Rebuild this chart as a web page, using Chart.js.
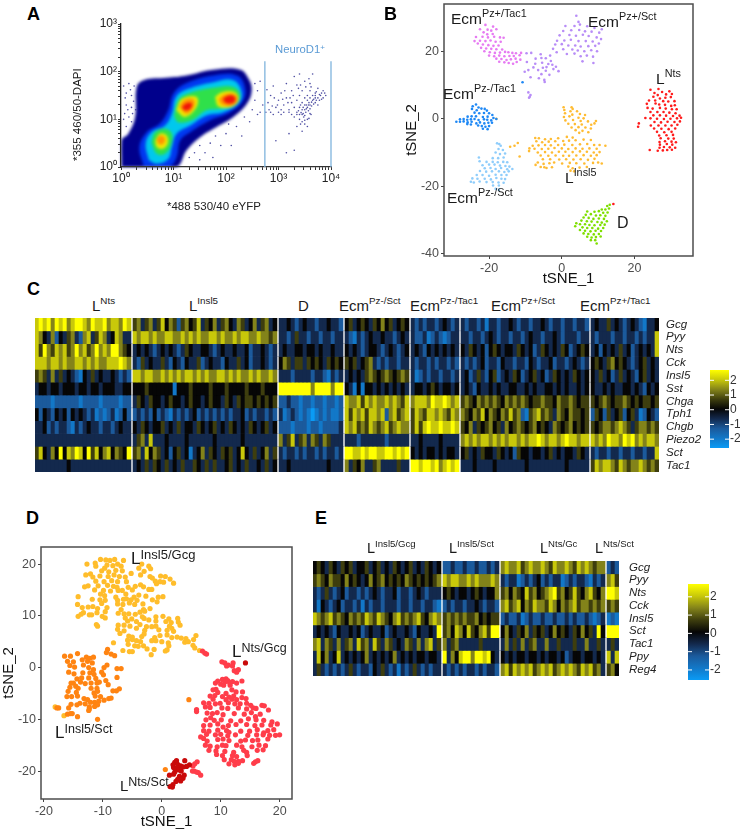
<!DOCTYPE html>
<html>
<head>
<meta charset="utf-8">
<style>
  html, body { margin: 0; padding: 0; background: #fff; }
  body { position: relative; width: 740px; height: 831px; overflow: hidden; font-family: "Liberation Sans", Arial, sans-serif; }
  canvas { position: absolute; }
  .lb { position: absolute; white-space: nowrap; line-height: 0; color: #1a1a1a; }
  .lb sup { position: relative; vertical-align: baseline; line-height: 0; }
</style>
<script src="https://cdn.jsdelivr.net/npm/chart.js@4/dist/chart.umd.min.js"></script>
</head>
<body>
<script>
// Panel A: density contours and sparse events, as [log10 x, log10 y]
const aNavy = [[0.01,0],[0.01,0.56],[0.14,0.7],[0.27,1.05],[0.3,1.68],[0.43,1.82],[0.87,1.87],[1.25,1.92],[1.76,2.04],[2.27,2.04],[2.43,1.85],[2.49,1.61],[2.4,1.33],[2.14,1.05],[1.82,0.84],[1.51,0.63],[1.25,0.35],[1.06,0],[0.5,-0.03],[0.01,0]];
const aBlue = [[0.43,0.02],[0.35,0.42],[0.49,0.73],[0.74,0.91],[0.9,1.19],[1,1.54],[1.25,1.76],[1.76,1.92],[2.21,1.92],[2.36,1.68],[2.33,1.4],[2.08,1.15],[1.7,0.98],[1.32,0.73],[1.13,0.56],[1.06,0.21],[0.93,0.02],[0.43,0.02]];
const aCyan = [[0.53,0.14],[0.47,0.49],[0.58,0.73],[0.84,0.87],[0.97,1.12],[1.05,1.47],[1.28,1.64],[1.76,1.78],[2.14,1.82],[2.3,1.57],[2.24,1.33],[1.95,1.15],[1.63,1.08],[1.32,0.87],[1.06,0.7],[0.97,0.42],[0.9,0.17],[0.68,0.07],[0.53,0.14]];
const aGreenLow = [[0.58,0.52],[0.65,0.73],[0.84,0.8],[0.97,0.7],[0.95,0.45],[0.84,0.28],[0.68,0.28],[0.58,0.52]];
const aGreenHigh = [[1.01,1.08],[1.09,1.4],[1.28,1.54],[1.76,1.66],[2.14,1.68],[2.27,1.5],[2.17,1.31],[1.89,1.22],[1.63,1.19],[1.35,0.98],[1.09,0.94],[1.01,1.08]];
const aYellowLow = [[0.65,0.56],[0.74,0.7],[0.87,0.66],[0.89,0.49],[0.79,0.38],[0.68,0.42],[0.65,0.56]];
const aYellowLeft = [[1.05,1.19],[1.16,1.43],[1.44,1.47],[1.44,1.26],[1.22,1.05],[1.05,1.19]];
const aYellowRight = [[1.79,1.47],[1.92,1.57],[2.17,1.57],[2.24,1.4],[2.11,1.26],[1.86,1.27],[1.79,1.47]];
const aOrangeLow = [[0.68,0.58],[0.75,0.66],[0.84,0.6],[0.8,0.48],[0.72,0.48],[0.68,0.58]];
const aOrangeLeft = [[1.11,1.26],[1.2,1.4],[1.38,1.42],[1.39,1.27],[1.25,1.12],[1.11,1.26]];
const aOrangeRight = [[1.86,1.42],[1.98,1.52],[2.17,1.52],[2.22,1.4],[2.11,1.29],[1.92,1.31],[1.86,1.42]];
const aRedLeft = [[1.16,1.26],[1.25,1.34],[1.35,1.33],[1.32,1.22],[1.21,1.19],[1.16,1.26]];
const aRedRight = [[1.94,1.43],[2.05,1.5],[2.16,1.48],[2.17,1.38],[2.08,1.33],[1.98,1.36],[1.94,1.43]];
const aSparse = [[2.8,1.35],[2.85,1.5],[2.9,1.7],[2.95,1.25],[3,1.4],[3.05,1.55],[3.05,1.1],[3.1,1.3],[3.15,1.45],[3.15,1.75],[3.2,1.2],[3.2,0.7],[3.25,1.35],[3.25,1.6],[3.3,1.05],[3.3,1.25],[3.3,1.9],[3.35,1.15],[3.35,1.4],[3.35,0.85],[3.4,1],[3.4,1.25],[3.4,1.5],[3.4,1.95],[3.42,1.3],[3.45,1.1],[3.45,1.2],[3.45,1.35],[3.45,1.6],[3.45,0.75],[3.48,1.05],[3.5,1.2],[3.5,1.3],[3.5,1.45],[3.5,1.8],[3.5,0.9],[3.52,1.15],[3.55,1.25],[3.55,1.4],[3.55,1.5],[3.55,1],[3.58,1.35],[3.6,1.3],[3.6,1.45],[3.6,1.6],[3.6,1.75],[3.62,1.1],[3.65,1.4],[3.65,1.5],[3.65,1.95],[3.7,1.35],[3.7,1.5],[3.7,1.55],[3.75,1.45],[3.75,1.3],[3.75,1.65],[3.8,1.5],[3.85,1.45],[3.85,1.6],[3.9,1.5],[3.3,0.35],[3.15,0.3],[2.95,0.55],[3.05,1.2],[2.85,1.15],[2.9,1.1],[3,1.15],[3.1,1.15],[3.2,1.15],[3.25,1.1],[3.35,1.1],[3.4,1.1],
  [3.38,1.18],[3.43,1.14],[3.47,1.25],[3.47,1.12],[3.5,1.08],[3.53,1.3],[3.53,1.22],[3.57,1.18],[3.57,1.3],[3.6,1.12],[3.6,1.22],[3.63,1.36],[3.63,1.28],[3.67,1.42],[3.67,1.32],[3.7,1.45],[3.72,1.4],[3.72,1.58],[3.78,1.52],[3.78,1.4],[3.82,1.42],[3.82,1.55],[3.88,1.55],[3.45,0.95],[3.5,0.98],[3.55,0.85],[3.42,0.9],[3.58,1.02],[3.38,1.65],[3.42,1.72],[3.52,1.68],[3.58,1.85],[3.62,1.68],[3.35,1.72],[3.28,1.5],[3.22,1.45],[3.18,1.35],[3.12,1.6],[3.08,1.42],[2.98,1.3],[2.92,1.45],[2.88,1.28],[2.82,1.2],[2.78,1.62],[2.76,1.15],
  [0.05,1.7],[0.1,1.3],[0.1,1.55],[0.15,1.05],[0.15,1.75],[0.2,1.25],[0.2,1.5],[0.25,1.7],[0.28,1.2],[0.1,0.85],[0.05,1],[0.2,0.95],[0.08,1.45],[0.18,1.62],[0.24,1.38],[0.13,1.2],[0.07,1.12],[0.22,1.12],[1.3,0.2],[1.4,0.3],[1.5,0.15],[1.5,0.45],[1.6,0.3],[1.7,0.5],[1.75,0.2],[1.8,0.65],[1.9,0.45],[2,0.7],[2.05,0.9],[2.1,0.45],[2.2,0.85],[2.3,0.65],[2.35,1.05],[2.45,0.95],[2.5,1.2],[2.55,1.4],[2.6,1.6],[2.65,1.8],[2.6,1.1],[2.7,1.3],[2.55,1.75],[2.65,1.15]];
const aGateX = [550, 10000];
const aGateY = [1, 165];
const aMajorTicks = [1, 10, 100, 1000, 10000];
const aTickText = ["10⁰", "10¹", "10²", "10³", "10⁴"];

// Panel B: tSNE clusters
const bPzpTac1 = [[-21,27.8],[-18.9,27.3],[-22.5,26.5],[-20.4,26.4],[-19.4,26.1],[-18,26.5],[-21.5,25.6],[-20.5,25],[-19,25.1],[-23.6,24.2],[-21.8,24.3],[-20.3,24.1],[-18.6,24.3],[-17,24.1],[-16,24],[-24,23],[-22.5,23.1],[-21,23],[-19.6,23.2],[-18.2,22.8],[-16.8,22.8],[-23.1,22.3],[-21.7,22],[-20.2,21.8],[-18.8,21.6],[-17.4,21.7],[-22.2,21],[-20.8,20.8],[-19.4,20.7],[-18,20.6],[-16.4,20.5],[-21.3,20],[-19.8,19.7],[-18.4,19.5],[-17,19.6],[-15.6,19.8],[-14.7,19.7],[-13.6,19.5],[-12.6,19.4],[-11.2,19.5],[-20,18.7],[-18.6,18.5],[-17.2,18.7],[-15.8,18.5],[-14.4,18.6],[-13.2,18.6],[-11.6,18.8],[-18,17.8],[-16.6,17.7],[-15.2,17.4],[-14,17.6],[-12.7,17.8],[-11.4,17.5],[-17.2,16.9],[-15.8,16.7],[-14.6,16.5],[-13.4,16.3],[-12.4,16.8]];
const bPzpSct = [[4,30.5],[4.6,28.7],[1,27.5],[3.5,27.5],[5,27.9],[7,27.4],[9,26.9],[11,26.5],[0.4,26],[2.6,26.2],[4.8,26.3],[6.4,25.9],[8.2,25.8],[10.3,25.5],[-0.6,24.7],[2.1,24.8],[3.9,24.6],[5.8,24.9],[7.4,24.5],[9.6,24.1],[10.8,23.6],[-1.3,23.1],[0.7,23.2],[2.5,23.4],[4.6,23],[6.6,23],[8.5,22.9],[10.2,22.3],[-1.8,22],[0,22.1],[1.8,21.7],[3.7,21.7],[5.2,21.4],[7.3,21.5],[9.2,21.6],[-2.4,20.7],[0.4,20.6],[2.9,20.5],[4.4,20.2],[6.2,20],[8.1,20.3],[9.7,20],[-1.4,19.7],[1.4,19.2],[3.5,19.3],[5.2,18.5],[6.9,18.7],[8.6,18.4],[-3.2,18.7],[-5.8,19.1],[-8.4,19.5],[-9.7,19.4],[-7.2,17.8],[-5.6,18],[-4.4,17.9],[-3,17.1],[8.7,16.5],[5.7,17],[-9.6,16.8],[-7.3,16.3],[-5.4,16.6],[-3.7,16.2],[-2.6,16],[-5.2,15.1],[-7.8,15.2],[-4.2,15.3],[-1.6,15.4],[-9.2,14.4],[-6.5,14.4],[-4.4,14.2],[-2.3,14.7],[-0.9,14.1],[-10.2,13.9],[-5.6,13.2],[-3.4,13],[-8.6,12.3],[-6.3,12],[-4.8,11.5],[-4.7,10.9],[-9.2,7.8],[-8.8,6.5],[-8.6,7],[-9,6.2]];
const bPzmTac1 = [[-23.6,4.2],[-24.5,3.7],[-22.9,3.3],[-24.7,2.9],[-23.4,2.5],[-22.1,3],[-21.2,2.9],[-20.6,2.4],[-24,1.8],[-22.7,1.6],[-21.4,1.7],[-20,1.6],[-19.1,1.1],[-25.9,0.6],[-24.8,0.7],[-23.6,0.7],[-21.7,0.5],[-20.4,0.6],[-18.8,0.2],[-18,-0.1],[-28,-0.2],[-27,-0.1],[-26,-0.3],[-25,-0.2],[-24,-0.1],[-22.9,-0.4],[-21.4,-0.2],[-20.5,-0.3],[-19.4,-0.5],[-29,-0.9],[-28,-0.9],[-27,-0.8],[-25.9,-1.1],[-24.8,-0.9],[-23.5,-1.4],[-22.5,-1.1],[-21.3,-1.4],[-20.2,-1.2],[-19.2,-1.2],[-26,-1.6],[-25,-1.7],[-23,-2],[-22,-2.2],[-21,-2.4],[-20,-2.2],[-21.7,-3],[-20.4,-3.1],[-10.8,10.8]];
const bPzmSct = [[-17.8,-7.3],[-17.2,-7.5],[-16.8,-8],[-17.4,-9],[-16.2,-9.3],[-18.2,-10],[-15.6,-10.3],[-17,-10.5],[-22.8,-11.5],[-19,-11.7],[-17.5,-11.7],[-16,-11.5],[-22.6,-12.6],[-20.7,-12.8],[-19,-12.8],[-17.6,-12.9],[-16.1,-12.8],[-15,-12.9],[-21.8,-13.8],[-20,-13.6],[-18.5,-13.6],[-17,-13.9],[-15.5,-14],[-14.4,-14.2],[-21.2,-14.7],[-19.6,-14.6],[-18.2,-14.9],[-16.7,-14.6],[-15,-15],[-13.6,-14.9],[-22.5,-15.5],[-20.8,-15.7],[-19.2,-15.6],[-17.3,-15.6],[-15.8,-15.8],[-14.6,-15.6],[-23.4,-16.7],[-21.8,-16.7],[-20,-16.9],[-18.2,-16.6],[-16.6,-16.7],[-15.2,-16.7],[-24.6,-17.7],[-23.2,-17.8],[-21.2,-17.8],[-19.5,-18],[-18,-17.6],[-16.6,-17.8],[-15.6,-17.9],[-25,-18.7],[-24.2,-18.9],[-22.6,-18.6],[-20.7,-18.8],[-19,-18.8],[-17.4,-18.9],[-16,-19],[-18.9,-19.8],[-17.3,-19.8],[-18.2,-20.8],[-17.3,-21.1]];
const bInsl5 = [[0.5,3.4],[2.7,3.4],[3,2.9],[0.7,2.6],[2.4,2.2],[4.2,2.2],[0.9,1.6],[2.9,1.2],[5,1.4],[6.4,1.1],[0.6,0.5],[2.1,0.7],[4.6,0.3],[6,0.1],[1,-0.5],[3.1,-0.4],[5.2,-0.7],[9.4,-0.7],[7.2,-0.8],[1.8,-1.5],[3.6,-1.6],[5.5,-1.7],[8.1,-1.8],[9,-1.4],[2.7,-2.6],[4.6,-2.5],[6.5,-2.6],[8,-2.9],[3.8,-3.4],[5.7,-3.6],[7.3,-4],[4.8,-4.2],[-7.3,-5.7],[-6.3,-5.8],[-4.6,-6.1],[-3,-6],[-1,-5.8],[1.4,-5.4],[3,-5.6],[-7,-6.7],[-5.4,-7],[-3.6,-6.8],[-1.8,-6.7],[0.4,-6.6],[2,-6.5],[3.8,-6.4],[6,-6.2],[8,-6.3],[-8,-8],[-6.4,-7.9],[-4.6,-7.8],[-3,-7.9],[-1,-7.8],[0.7,-7.7],[2.9,-7.8],[5,-7.6],[7,-7.5],[8.9,-7.8],[10.4,-7.8],[12,-8],[-8.9,-8.8],[-7.5,-8.9],[-5.5,-9],[-3.7,-8.9],[-2,-8.7],[0,-8.8],[1.8,-9],[3.8,-8.8],[5.7,-8.9],[7.6,-8.8],[9.6,-8.9],[-9,-9.6],[-6.6,-10],[-4.6,-9.9],[-2.7,-10],[-0.8,-9.8],[1,-9.8],[3,-9.9],[5,-9.7],[6.9,-9.8],[8.8,-10],[10.4,-9.9],[-5.8,-10.9],[-3.7,-11],[-1.7,-10.9],[0.4,-11],[2,-11],[4,-10.9],[6,-10.8],[8,-11],[9.6,-10.8],[-5.2,-12],[-3.2,-12],[-0.7,-12.1],[1.2,-12],[3.2,-12.1],[5.2,-12],[7.2,-12.2],[9,-11.9],[-6.6,-13],[-5,-13.4],[-3.4,-13.2],[-2.1,-13],[0.1,-13.3],[2.2,-13.1],[4,-13.2],[6.2,-13.3],[8.6,-13.1],[10,-13],[11,-13.3],[-7.2,-13.7],[-5.8,-14.3],[-4.8,-14.4],[-4.2,-14.6],[-2.7,-14.4],[1.8,-14.2],[3,-14.7],[4.9,-14.5],[6.9,-14.3],[2.4,-15.4],[3.4,-15.6],[-12.1,-7.2],[-11.6,-11.2],[-13,-8],[-14.2,-8.3],[-18,0]];
const bNts = [[24.4,8.6],[26.6,8.8],[27.6,7.9],[29.6,8.1],[25.5,7.6],[26.4,7],[28.7,7.2],[30.3,7.3],[25.2,6.5],[27,6],[28.5,6.2],[30,6.4],[24,5.4],[25.7,5.4],[27.9,5.2],[29.3,5.1],[31,5.2],[23.4,4.4],[25.8,4.5],[26.8,4.2],[28.4,4.1],[30.1,3.8],[31.1,4],[23.6,3.2],[25,3],[27,3.2],[28.6,3],[30.3,2.8],[31.6,2.8],[24.4,2],[26.3,2],[28,2],[29.6,1.8],[31.3,1.6],[25.2,1],[27,1],[28.7,0.9],[30.6,0.8],[32.4,0.9],[23,0.2],[24.4,0.1],[26.2,0],[28.1,-0.1],[29.9,0],[31.7,0.1],[32.8,0.3],[25.5,-1],[27.3,-1.1],[29.1,-0.9],[31,-1],[32.5,-0.8],[21.2,-1.4],[24.5,-2],[26.6,-2],[28.5,-2],[30.2,-2],[31.8,-1.8],[21,-2.4],[25.4,-2.9],[27.4,-3],[29.4,-3.1],[31.2,-2.9],[26.2,-3.9],[28.2,-4],[30.2,-3.9],[26.8,-5],[28.8,-4.9],[30.6,-4.8],[27.2,-5.8],[29.3,-5.9],[30.8,-5.9],[26.9,-6.9],[28.4,-6.7],[30.2,-6.8],[31.4,-7],[27,-7.7],[28.9,-7.5],[30.4,-7.7],[26.9,-8.6],[28.1,-8.4],[29.7,-8.5],[31.2,-8.6],[24.2,-9.3],[26.4,-9.5],[27.8,-9.4],[29,-9.3],[30.3,-9.2],[14.2,-25.3]];
const bDelta = [[13.2,-25.5],[12.5,-25.9],[13,-26.6],[11,-26.9],[12,-26.9],[7,-27.5],[9,-27.6],[10.2,-27.4],[11.4,-27.9],[12.6,-27.8],[6.6,-28.5],[8,-28.3],[9.4,-28.7],[10.6,-28.6],[12,-28.8],[6,-29.3],[7.4,-29.4],[8.7,-29.7],[10.2,-29.6],[11.6,-29.7],[5.4,-30.2],[6.9,-30.4],[8.2,-30.5],[9.8,-30.6],[11,-30.8],[12.4,-30.4],[4,-31],[5,-31.3],[6.4,-31.3],[7.6,-31.5],[9,-31.6],[10.6,-31.5],[11.8,-31.4],[3.7,-31.9],[5.7,-32.2],[7,-32.4],[8.4,-32.4],[10,-32.6],[11.4,-32.4],[5,-33],[6.4,-33.2],[7.9,-33.4],[9.3,-33.2],[10.8,-33.3],[6,-34],[7.3,-34.2],[8.8,-34.3],[10.2,-34.2],[7,-35],[8.2,-35.2],[9.4,-35.1],[10.7,-34.9],[8,-36],[9.2,-36],[9.6,-37]];
const bTicksX = [-20, 0, 20];
const bTicksY = [-40, -20, 0, 20];

// Panel D: tSNE clusters of the L cells
const dInsl5Gcg = [[-10.4,20.9],[-9.5,20.8],[-8.8,20.7],[-8,20.9],[-6.5,20.7],[-12.7,20],[-11.3,20.2],[-11.2,19.6],[-9.7,19.2],[-9.3,19.8],[-8.3,19.7],[-7.5,20],[-6.9,19.6],[-3.4,20],[-2.2,19.6],[-10.2,18.7],[-9,18.5],[-7.8,18.8],[-6.7,18.7],[-3.9,19.2],[-3,18.6],[-1.9,19.1],[-12.9,17.9],[-12.1,18.1],[-11.7,17.5],[-10.5,17.7],[-9.1,17.6],[-8.1,17.9],[-7.2,17.6],[-6.2,17.5],[-5.2,18.2],[-3.6,17.9],[-2,17.6],[-1.6,17.3],[-0.2,17.7],[0.6,17.6],[1.4,17.1],[-11.2,16.7],[-9.8,16.6],[-8.5,16.8],[-7.5,16.6],[-6,16.6],[-1.1,16.7],[-0.3,16.6],[-0.9,16.2],[0.3,16.5],[2,16.3],[-13.1,15.6],[-12.5,15.8],[-10.8,15.8],[-9.2,15.9],[-8.2,15.7],[-7.6,15.5],[-5.7,15.5],[-4.5,15.7],[-3.6,16],[-3.1,15.6],[-11.4,15],[-9.9,14.9],[-8.7,14.8],[-7.4,14.9],[-6.7,14.9],[-5,15],[-2.2,15.1],[-1.7,15.1],[-10.4,14.2],[-9.7,13.9],[-6.1,14.2],[-7.8,13.6],[-4.7,13.6],[-3.9,14],[-2.7,13.8],[-14.2,13.7],[-11.8,13.2],[-10.5,13.1],[-9.6,13],[-7.5,13],[-6.5,13.2],[-6,13.3],[-5.2,13.1],[-4.2,13],[-1.6,13.1],[-0.6,13.6],[0.2,13.7],[-14.3,12.2],[-10.2,12.4],[-7.5,12.3],[-6.6,12.2],[-5.5,12.5],[-4.6,12.2],[-3.2,12.3],[-0.8,12.7],[-13.5,11.6],[-12.5,11.7],[-11.7,11.8],[-10.9,11.4],[-9.3,11.6],[-6.9,11.2],[-3.1,11.2],[-2,11.4],[-13.3,10.6],[-11,10.6],[-9.6,10.8],[-7.4,10.5],[-6.4,10.4],[-5.6,10.4],[-4.5,10.3],[-3.7,10.7],[-2.9,10.9],[-14.2,9.9],[-13.7,10.3],[-12.3,10.2],[-11.9,10.2],[-10.1,9.9],[-9.6,9.6],[-6.2,9.6],[-5.1,9.4],[-3.3,9.8],[-3,9.5],[-2.2,9.2],[-1,9.8],[0.2,9.9],[1.2,9.4],[2.7,9.5],[-5.8,9],[-4.3,8.9],[-1,9],[0.7,8.9],[1.6,8.7],[2.8,8.8],[-11.1,8.3],[-10.9,8],[-7.4,8.2],[-6.4,8.2],[-5.4,8],[-3.7,8.3],[-2.6,7.9],[-1.7,7.9],[-1,8],[1.3,8],[1.7,7.6],[3.1,8.2],[-7.5,7.4],[-6.4,7.1],[-4.3,7.6],[-2.9,7.2],[-0.5,7.3],[0.9,7.2],[2,7],[-7.1,6.6],[-5.6,6.1],[-5,5.9],[-3.4,6],[-3,6.5],[-1.2,5.8],[-0.3,6.2],[0.9,6.3],[1.7,5.8],[2.6,5.9],[3.3,5.7],[4.1,5.6],[5.8,6.2],[-5.8,5.3],[-5,5.4],[-4.3,5.2],[-3.6,5],[-1.7,5.2],[-1,5.2],[0,5],[1.1,4.8],[3.9,4.9],[4.5,5],[5.4,5.4],[-5.7,4.5],[-4.6,4.2],[-4,4.1],[-3.1,4.2],[-2.5,3.6],[-1.3,3.5],[0.9,3.4],[1.2,4.2],[5.3,4.3],[5.6,3.8],[-6.6,3.3],[-5.5,3.1],[-5,3.1],[-1.8,2.5],[0.6,3.2],[6.4,3.3],[-8.2,4.8],[-18.1,-7.6],[-16.6,-9.3]];
const dInsl5Sct = [[-16.5,2.2],[-15.5,2.2],[-14.3,2.7],[-12.8,2],[-12.2,1.8],[-11.6,2],[-16,1.2],[-15,1.1],[-13.5,1.5],[-12.6,1.2],[-11.8,0.9],[-9.2,3.5],[-9.4,2.9],[-8.6,2.6],[-8,2.3],[-9.3,0.5],[-9.8,0],[-7.6,-0.2],[-6.9,-0.2],[-15.6,0.4],[-14.8,0.1],[-13.3,0.5],[-12.4,0],[-11.6,-0.4],[-15.8,-0.9],[-14.9,-1.2],[-13.4,-1],[-12.2,-1],[-11.5,-1.3],[-10.2,-0.9],[-9.9,-1.4],[-7.6,-1.9],[-14.4,-2.2],[-13.6,-2],[-12.4,-2],[-11.2,-2.1],[-9.5,-2.5],[-15.4,-3],[-15,-3],[-13.8,-2.8],[-13,-3.1],[-12,-3],[-11,-3],[-10.6,-2.8],[-9.1,-3.3],[-15.6,-3.8],[-14.6,-3.6],[-14.2,-4],[-12,-4],[-11,-4],[-7.2,-4.1],[-7.7,-4.5],[-8.3,-4.5],[-15.9,-4.6],[-14.5,-4.8],[-11.5,-4.9],[-10.9,-4.6],[-16.1,-5.6],[-15.3,-5.6],[-14.3,-5.5],[-11.3,-5.5],[-10.4,-5.6],[-13.2,-6],[-12.6,-6.2],[-9,-6],[-8.6,-5.9],[-9.8,-6.3],[-12.1,-6.7],[-11.4,-6.7],[-10.7,-6.5],[-13.9,-6.9],[-13,-7],[-15.4,-7.1],[-14.4,-7.2],[-12.3,-7.6],[-11.4,-7.5],[-10.9,-7.2],[-12.3,-8],[-12.4,-8.3],[-15.8,-7.8],[-17.8,-7.8],[-17.5,-7.8],[-16,-9],[-15.5,-8.9],[-15.2,-8.9],[-14.3,-9.5],[-10.9,-10],[4.6,-6.2],[0.6,-19.7]];
const dNtsGcg = [[10.2,1.1],[10.7,0.9],[11.3,0.5],[11,0.3],[12.1,0.9],[12,0.3],[13,-0.4],[12.7,-0.9],[12.3,-0.6],[10.3,-2.3],[10.9,-2.2],[11.2,-2.5],[9.5,-2.6],[9.1,-3],[10,-3.2],[10.7,-2.8],[11.5,-2.9],[12,-2.7],[12.7,-3],[13.6,-2.6],[11.6,-3.4],[10.5,-3.4],[9.2,-4.2],[8.7,-4.3],[11.9,-4.3],[12.6,-4.7],[13.7,-4.7],[9.5,-4.8],[10.9,-5],[9,-5.4],[8.2,-5.5],[10.3,-5.6],[11.4,-5.7],[12.2,-5.5],[13.6,-5.8],[14.3,-6],[8.7,-6.1],[10.9,-6.2],[11.9,-6.1],[12.7,-6.2],[7.1,-6.8],[8,-6.9],[9.1,-7],[9.9,-6.9],[11.3,-6.8],[12.4,-7],[13.3,-7],[14.4,-6.9],[15.1,-7.3],[17,-7.3],[17.4,-7.4],[7.4,-7.6],[8.2,-7.7],[10.2,-7.8],[11.2,-7.9],[13,-7.8],[14.4,-8],[15.5,-7.8],[16,-7.9],[18.1,-8.2],[5.9,-8.1],[5.9,-8.5],[7.7,-8.8],[8.6,-8.9],[9.4,-8.7],[10.4,-9.1],[12.3,-8.9],[14,-9],[15.2,-8.7],[16.7,-9],[15.9,-9.5],[8.3,-9.7],[7.5,-10.1],[8.9,-10.2],[10.1,-10.1],[11.7,-10.3],[13.4,-10.3],[14.7,-9.9],[16,-10.1],[17.3,-10.2],[18.7,-10.5],[9.5,-10.9],[7.1,-11.2],[8.2,-11.1],[11.3,-11.2],[12.6,-11],[14.4,-11],[15.8,-11.2],[17,-11.1],[18.5,-11.1],[19.6,-10.9],[10.4,-11.5],[7.1,-12.2],[8,-12.3],[9.5,-12.1],[11,-12.2],[11.4,-12.5],[13.4,-12.3],[14.9,-12.3],[16.2,-12],[18,-12.2],[19,-12],[17.3,-12.6],[7.6,-12.9],[9.1,-13],[10,-12.9],[11.2,-13.2],[12.5,-13],[14.6,-13.1],[16.1,-13],[17.2,-13],[18.3,-13.1],[19.3,-13.1],[20,-13],[6.6,-13.4],[7.1,-13.7],[7.7,-14.2],[9.5,-13.9],[10.4,-13.8],[11.4,-14.1],[13.4,-14.2],[14.2,-14],[15.4,-14.1],[16.3,-14],[18,-13.8],[7.4,-15],[8.2,-15.2],[9.4,-15.3],[10.3,-15],[10.9,-15.1],[12.7,-15],[13.6,-15.3],[15.3,-15.3],[16.5,-15],[17.6,-15.1],[8,-16],[9.2,-16.1],[10.7,-16.2],[12.2,-16.4],[13.9,-16],[14.4,-16.4],[16.2,-16],[17.2,-15.9],[9.3,-16.8],[10.3,-17],[12,-17],[12.7,-17.2],[14.5,-17],[15.6,-18.5],[15.9,-18.2],[16.3,-18],[10.6,-17.8],[11.8,-17.8],[12.3,-18.1],[13,-18.1],[13.7,-18],[11.4,-18.6],[12.4,-18.8],[13,-18.5],[6.9,3.2],[7.3,2.8],[7.6,2.6],[6,-18.2],[5.6,-18.6],[5.3,-19],[5.5,-20],[5.2,-20],[6.2,-20.3],[6.6,-20.8],[5.9,-20.2]];
const dNtsSct = [[2.2,-18.3],[2.5,-18],[1.9,-18.8],[2.7,-18.7],[3.2,-19],[2,-19.3],[2.6,-19.5],[3.6,-19.2],[2.9,-19.8],[2.2,-20.2],[3.3,-20],[1.3,-20.8],[2,-20.6],[3,-21],[3.8,-20.8],[2.7,-21.6],[3.2,-21.9],[2.4,-22],[1.9,-22.6],[1.4,-23],[1.8,-23.1],[3.6,-21.4],[4.7,-18.8],[4.2,-19.1],[3.9,-18],[14.2,0.9]];
const dTicksX = [-20, -10, 0, 10, 20];
const dTicksY = [-20, -10, 0, 10, 20];

// Panel C heatmap: one list per gene, one inner list per cell type. 0 = bright blue, 4 = black, 8 = yellow
const cGenes = ["Gcg","Pyy","Nts","Cck","Insl5","Sst","Chga","Tph1","Chgb","Piezo2","Sct","Tac1"];
const cGroupSizes = [24,36,16,16,12,32,17];
const cGcg = [[7,8,7,8,6,8,7,8,6,7,8,8,7,6,8,7,7,8,6,7,7,6,8,7],[5,6,3,5,6,3,5,7,4,6,5,2,5,6,4,5,7,3,5,4,6,3,5,6,4,3,6,5,3,4,6,3,5,6,3,4],[3,3,4,3,2,3,4,3,3,2,3,3,4,3,3,2],[4,5,3,4,5,4,3,5,4,6,4,5,3,4,5,4],[3,2,3,2,3,3,2,3,4,3,2,3],[3,2,3,3,2,3,1,3,3,2,3,3,4,3,2,3,3,2,3,3,4,3,2,3,3,2,3,3,2,3,3,2],[3,4,3,3,5,3,4,3,2,3,4,3,2,1,3,3,4]];
const cPyy = [[7,6,4,3,6,2,4,3,5,6,3,2,6,7,3,5,7,6,3,4,7,6,3,3],[7,6,7,7,6,7,6,6,7,7,6,6,7,6,7,6,7,6,6,7,7,6,7,6,6,7,6,7,7,6,6,7,6,6,5,6],[3,3,2,3,5,3,3,2,3,3,2,3,3,2,3,3],[3,2,1,3,2,3,4,3,3,4,3,3,2,3,4,3],[3,2,2,3,1,2,3,2,1,2,3,3],[3,3,2,3,3,2,3,4,3,2,3,3,2,3,3,2,3,4,3,3,2,3,3,4,3,2,3,3,3,2,3,3],[3,2,3,3,3,2,3,3,2,3,3,2,3,2,3,3,7]];
const cNts = [[7,5,8,6,5,7,6,7,5,6,8,6,7,5,6,8,6,7,6,8,8,6,5,4],[3,4,3,4,3,2,3,4,3,4,3,2,3,5,4,3,3,4,4,3,2,3,4,3,3,4,3,3,4,2,3,3,4,3,2,3],[3,4,3,3,4,4,3,4,4,3,4,3,3,4,3,3],[4,3,4,3,2,3,4,4,3,2,3,4,3,2,3,4],[3,4,3,2,4,3,4,3,4,3,4,3],[4,3,5,4,3,4,2,4,5,4,3,4,4,3,5,4,3,4,2,3,5,4,3,4,3,5,4,2,3,4,5,4],[3,4,2,4,3,4,3,5,3,4,2,3,4,3,4,3,7]];
const cCck = [[7,7,7,6,7,7,6,7,6,6,7,7,6,7,6,7,6,6,7,7,7,8,7,6],[3,2,5,3,4,3,3,5,3,2,4,3,2,4,3,3,5,2,3,4,3,3,2,4,3,3,5,3,4,2,3,3,4,3,2,3],[4,6,5,3,5,5,3,5,4,5,4,3,5,4,5,4],[5,4,5,3,4,5,6,3,2,3,2,3,3,2,3,3],[3,2,3,3,2,3,2,3,3,2,3,2],[3,2,3,2,3,4,2,3,3,2,4,3,3,2,3,3,2,4,3,2,3,3,4,2,3,3,2,3,4,3,2,3],[4,5,4,3,5,6,4,5,4,3,2,3,4,5,3,4,3]];
const cInsl5 = [[5,6,5,3,6,3,5,3,4,3,2,1,4,3,5,3,4,3,3,4,3,2,3,2],[7,7,6,7,7,6,6,7,6,7,6,7,6,7,7,6,7,6,7,6,6,7,7,6,7,6,7,6,6,7,6,7,6,6,7,6],[3,3,3,2,3,3,3,3,2,3,3,2,1,3,2,3],[3,4,3,4,3,5,6,5,4,5,6,5,4,5,6,5],[3,1,2,3,2,3,3,2,3,3,2,3],[3,4,2,3,5,3,2,4,5,2,3,4,3,5,4,2,3,4,5,3,4,2,3,5,4,3,4,3,5,4,3,4],[4,3,5,3,4,2,3,5,3,4,3,2,4,5,3,4,3]];
const cSst = [[3,4,4,3,4,4,3,4,4,4,3,4,4,3,4,4,3,4,4,4,3,3,4,4],[4,4,4,5,4,4,4,4,4,4,1,4,4,4,5,4,4,4,4,5,4,4,4,5,4,4,4,4,5,4,4,4,5,4,4,4],[8,8,8,8,8,8,8,8,6,8,8,8,8,6,8,8],[4,3,1,4,1,4,4,3,4,3,4,3,4,3,4,3],[3,4,4,3,4,5,4,3,4,4,3,4],[3,4,3,2,4,3,3,4,3,4,3,3,4,4,3,3,4,3,4,3,3,4,4,3,4,3,4,3,3,4,3,4],[4,3,3,4,3,4,3,3,4,4,3,4,3,2,4,3,4]];
const cChga = [[2,2,2,2,1,2,2,2,2,2,2,1,2,2,2,2,1,2,2,2,2,1,2,2],[3,5,4,3,5,4,4,3,4,5,4,4,3,4,5,4,4,3,4,5,4,4,3,5,4,3,5,4,5,5,4,5,4,5,4,5],[2,2,3,2,2,1,2,2,1,2,2,1,2,2,1,2],[7,6,6,7,5,7,6,7,6,6,7,6,7,6,5,7],[6,7,7,7,6,8,7,7,8,7,6,7],[5,6,5,4,6,5,6,5,6,5,4,6,5,6,5,6,5,4,5,5,6,5,5,4,6,5,5,6,5,4,5,5],[5,4,5,6,5,4,5,5,6,5,4,5,4,5,5,4,5]];
const cTph1 = [[4,2,4,3,2,4,3,4,2,4,3,4,3,2,3,1,2,1,2,3,1,2,4,2],[2,3,2,3,2,4,2,3,2,1,3,2,3,2,3,4,2,3,2,3,2,3,2,3,2,3,3,4,2,3,2,3,3,2,3,2],[3,1,2,3,2,1,2,1,0,1,2,1,2,1,1,2],[7,5,7,6,7,5,7,7,6,7,2,6,7,5,6,7],[5,7,6,5,7,7,6,7,6,5,7,6],[6,5,4,6,5,7,4,6,5,4,6,5,7,5,6,2,1,5,6,7,5,6,5,3,6,5,4,6,5,5,4,5],[2,5,4,2,5,3,4,5,2,4,5,3,1,2,4,3,2]];
const cChgb = [[3,3,4,2,3,2,3,3,2,1,3,2,3,4,3,3,2,3,3,2,3,4,3,3],[4,3,5,4,3,4,4,5,3,4,3,5,3,4,4,3,5,4,3,4,5,3,4,3,5,4,3,4,3,5,4,3,4,5,3,4],[2,2,2,1,2,2,2,1,2,2,1,2,2,2,2,3],[7,6,7,5,6,5,7,6,5,6,7,5,6,7,6,6],[5,7,5,7,8,7,7,8,7,7,8,7],[5,4,6,3,5,4,5,6,4,5,3,6,4,5,6,5,4,5,6,4,5,4,3,6,5,4,5,6,4,5,4,5],[5,4,5,6,6,5,6,7,6,5,3,5,6,6,5,6,5]];
const cPiezo2 = [[3,3,3,3,3,3,3,3,3,3,3,3,3,3,3,3,3,3,3,3,3,3,3,3],[3,5,6,3,7,3,3,3,4,3,3,3,3,4,3,3,3,3,3,3,4,3,3,3,3,3,3,4,3,3,3,3,3,3,3,3],[6,3,5,7,3,5,6,3,6,5,3,6,5,3,3,3],[3,3,3,2,3,3,3,3,3,3,2,3,3,3,3,3],[3,3,4,3,3,3,3,4,3,3,3,3],[6,7,6,7,6,7,7,6,7,6,7,6,7,7,6,7,6,7,7,8,7,6,7,7,6,7,8,7,7,6,7,7],[7,6,7,6,8,7,7,6,8,7,8,6,7,6,7,7,6]];
const cSct = [[5,7,4,3,6,4,8,4,7,6,8,7,4,8,5,7,4,6,7,4,6,5,4,8],[5,6,3,7,4,6,5,3,4,2,4,5,3,4,1,3,4,6,3,5,4,3,5,4,5,3,4,7,4,3,5,3,4,6,3,5],[3,2,3,3,2,3,2,3,3,2,3,2,3,3,2,3],[8,8,7,7,8,7,8,8,7,7,8,8,7,8,7,8],[4,3,4,3,4,4,3,4,3,4,4,3],[4,5,3,4,3,5,4,4,3,5,4,3,4,2,5,4,4,3,4,4,3,4,5,3,4,3,4,4,3,5,4,3],[3,2,3,3,2,3,3,2,3,3,2,3,3,2,3,3,7]];
const cTac1 = [[3,3,3,3,3,3,3,3,4,3,3,3,3,3,3,3,3,3,3,3,3,3,3,3],[3,4,3,5,3,5,4,3,5,3,4,3,5,3,3,5,4,3,5,3,5,3,3,4,5,3,4,3,5,3,3,4,3,5,3,4],[3,3,4,3,3,3,3,3,3,3,3,3,4,3,3,3],[6,3,5,4,6,3,3,5,6,3,3,3,3,5,3,3],[8,8,7,8,8,7,8,6,7,8,7,8],[3,3,3,4,3,3,3,3,4,3,3,3,3,3,3,3,4,3,3,3,3,3,3,3,3,3,4,3,3,3,3,3],[5,7,6,7,7,6,5,7,6,5,6,6,7,6,5,6,5]];
const cRows = [cGcg,cPyy,cNts,cCck,cInsl5,cSst,cChga,cTph1,cChgb,cPiezo2,cSct,cTac1];

// Panel E heatmap
const eGenes = ["Gcg","Pyy","Nts","Cck","Insl5","Sct","Tac1","Ppy","Reg4"];
const eGroupSizes = [32,14,26,3];
const eGcg = [[4,5,4,3,5,4,3,5,4,5,3,4,4,5,3,4,5,3,4,3,5,4,3,4,5,3,4,3,5,4,3,4],[2,2,3,2,2,3,2,2,3,2,2,3,2,3],[6,7,6,6,7,5,6,7,6,6,7,6,5,7,6,6,7,6,5,7,6,7,6,5,6,6],[2,3,2]];
const ePyy = [[5,6,5,4,6,5,5,4,6,4,5,4,3,4,6,4,5,6,4,5,4,5,4,6,5,4,5,4,5,4,5,6],[7,6,7,7,6,6,7,6,7,6,6,6,7,6],[3,2,3,3,1,2,3,2,3,4,2,3,2,3,3,1,2,3,2,3,3,2,1,3,2,3],[6,7,5]];
const eNts = [[3,2,3,5,3,2,3,4,2,3,3,2,3,2,3,4,3,2,3,3,4,2,3,3,2,3,4,3,2,3,3,3],[4,5,4,3,4,4,3,4,5,4,3,4,4,6],[5,6,4,6,5,4,7,5,6,4,5,6,7,8,5,6,4,5,7,5,4,6,7,5,4,6],[8,8,7]];
const eCck = [[3,1,4,3,2,3,4,2,3,3,2,3,1,3,2,3,3,2,3,3,3,2,3,3,2,3,3,2,3,3,2,1],[2,3,2,3,3,2,3,3,4,3,2,3,3,2],[6,7,5,6,7,4,6,5,7,6,6,5,7,6,4,6,5,6,7,5,6,6,5,6,5,6],[5,6,5]];
const eInsl5 = [[7,6,5,6,7,5,6,5,4,6,5,6,5,7,6,5,7,6,5,4,6,7,5,6,5,6,7,5,4,6,7,6],[5,6,5,6,5,6,5,5,6,4,5,4,5,5],[2,3,2,2,3,1,2,3,2,2,3,2,2,3,2,2,3,2,3,2,2,3,2,1,2,3],[1,2,1]];
const eSct = [[3,4,3,4,3,2,4,3,3,4,3,4,2,3,4,3,3,4,2,3,4,3,3,4,3,2,4,3,3,4,3,8],[5,6,4,7,6,4,7,5,4,6,7,5,8,8],[4,6,4,3,5,4,6,3,5,4,5,3,4,6,4,5,4,3,5,4,6,4,5,3,8,4],[8,8,8]];
const eTac1 = [[6,7,3,6,5,3,6,3,5,6,3,7,5,6,3,7,5,3,6,5,3,4,3,6,5,3,6,3,6,7,3,5],[6,3,5,6,3,3,3,3,3,5,3,3,3,3],[3,6,3,5,3,6,3,5,6,3,3,6,3,3,5,3,3,3,5,3,3,6,3,3,5,3],[3,5,3]];
const ePpy = [[3,7,4,6,3,4,7,3,4,3,4,3,4,6,3,4,3,4,3,4,6,3,4,3,4,3,4,4,3,4,4,3],[8,3,6,4,7,8,8,6,8,8,7,8,4,3],[4,3,4,3,4,4,3,4,4,3,4,3,4,4,3,4,2,3,4,4,3,4,4,3,4,3],[7,3,7]];
const eReg4 = [[3,5,3,2,3,2,3,2,3,5,3,2,3,3,2,4,3,5,3,2,3,1,3,2,3,5,3,2,3,2,3,3],[3,2,3,2,3,2,3,3,2,3,2,3,3,2],[6,7,5,7,6,7,6,7,5,6,7,6,7,5,6,7,6,7,6,5,7,6,7,5,6,3],[5,6,4]];
const eRows = [eGcg,ePyy,eNts,eCck,eInsl5,eSct,eTac1,ePpy,eReg4];

const heatRamp = ["#0a9bf5","#1278c8","#1b5a9c","#13294d","#060606","#3e3e0e","#83831a","#c8c80a","#ffff00"];
const colorbarTicks = [2, 1, 0, -1, -2];

Chart.defaults.font.family = '"Liberation Sans", Arial, sans-serif';
Chart.defaults.animation = false;
Chart.defaults.responsive = false;
Chart.defaults.events = [];
Chart.defaults.plugins.legend.display = false;
Chart.defaults.plugins.tooltip.enabled = false;

const framePlugin = {
  id: "frame",
  afterDraw(chart, args, opts) {
    if (!opts.color) return;
    const { ctx, chartArea: a } = chart;
    ctx.save();
    ctx.strokeStyle = opts.color;
    ctx.lineWidth = opts.width;
    ctx.strokeRect(a.left, a.top, a.right - a.left, a.bottom - a.top);
    ctx.restore();
  }
};
Chart.register(framePlugin);

// canvas placed so the plot area lands on box, with gutters around it for the axes
function addChart(box, gut, config) {
  const c = document.createElement("canvas");
  c.width = box.r - box.l + gut.l + gut.r;
  c.height = box.b - box.t + gut.t + gut.b;
  c.style.left = (box.l - gut.l) + "px";
  c.style.top = (box.t - gut.t) + "px";
  document.body.appendChild(c);
  let pad = { top: gut.t, right: gut.r };
  if (gut.side === "right") pad = { top: gut.t, bottom: gut.b };
  if (gut.side === "none") pad = { top: gut.t, right: gut.r, bottom: gut.b, left: gut.l };
  config.options.layout = { padding: pad };
  return [c, new Chart(c, config)];
}
// fixed axis thickness, and no extra room for the end tick labels
const fixSize = n => s => {
  if (s.isHorizontal()) s.height = n; else s.width = n;
  s.paddingLeft = s.paddingRight = s.paddingTop = s.paddingBottom = 0;
};
const ticksAt = list => s => { s.ticks = list.map(v => ({ value: v })); };
const toPoints = a => a.map(p => ({ x: p[0], y: p[1] }));
const toLogPoints = a => a.map(p => ({ x: Math.pow(10, p[0]), y: Math.pow(10, p[1]) }));

// Panel A: blurred density underneath, axes and single events on top
const aBox = { l: 121, t: 24, r: 331, b: 167 };
const aContours = [
  [aNavy, "#00008c"], [aBlue, "#0038f0"], [aCyan, "#00c8ee"],
  [aGreenLow, "#2fe04a"], [aGreenHigh, "#2fe04a"],
  [aYellowLow, "#eee800"], [aYellowLeft, "#eee800"], [aYellowRight, "#eee800"],
  [aOrangeLow, "#ff9400"], [aOrangeLeft, "#ff9400"], [aOrangeRight, "#ff9400"],
  [aRedLeft, "#f01408"], [aRedRight, "#f01408"]
].map(([pts, col]) => ({ data: toLogPoints(pts), showLine: true, fill: "shape", tension: 0.4, backgroundColor: col, borderColor: col, borderWidth: 0, pointRadius: 0 }));
const [aDensity] = addChart(aBox, { l: 8, r: 8, t: 8, b: 8, side: "none" }, {
  type: "scatter",
  data: { datasets: aContours.reverse() },
  options: { scales: {
    x: { type: "logarithmic", display: false, min: 1, max: 10000 },
    y: { type: "logarithmic", display: false, min: 1, max: 1000 }
  } }
});
aDensity.style.filter = "blur(1.7px)";
const aDots = { data: toLogPoints(aSparse), backgroundColor: "rgba(35,35,140,0.8)", borderWidth: 0, pointRadius: 0.8 };
const aGates = aGateX.map(x => ({ data: [{ x, y: aGateY[0] }, { x, y: aGateY[1] }], showLine: true, borderColor: "#7fb4dd", borderWidth: 1.3, pointRadius: 0, clip: false }));
const aMinor = [];
aMajorTicks.slice(0, 4).forEach(m => [2,3,4,5,6,7,8,9].forEach(k => aMinor.push(m * k)));
const [aCanvas] = addChart(aBox, { l: 48, r: 14, t: 8, b: 22 }, {
  type: "scatter",
  data: { datasets: [...aGates, aDots] },
  options: { scales: {
    x: { type: "logarithmic", min: 1, max: 10000, afterFit: fixSize(22), afterBuildTicks: ticksAt([...aMajorTicks, ...aMinor]),
      grid: { drawOnChartArea: false, tickLength: 3, color: "#333" }, border: { color: "#333", width: 1.2 },
      ticks: { autoSkip: false, maxRotation: 0, padding: 1, color: "#222", font: { size: 12 }, callback: v => aTickText[aMajorTicks.indexOf(v)] || "" } },
    y: { type: "logarithmic", min: 1, max: 1000, afterFit: fixSize(48), afterBuildTicks: ticksAt([...aMajorTicks.slice(0, 4), ...aMinor.filter(v => v < 1000)]),
      grid: { drawOnChartArea: false, tickLength: 3, color: "#333" }, border: { color: "#222", width: 1.3 },
      ticks: { autoSkip: false, padding: 1, color: "#222", font: { size: 12 }, callback: v => aTickText[aMajorTicks.indexOf(v)] || "" } }
  } }
});
aCanvas.style.filter = "blur(0.4px)";

// Panels B and D
function tsneOptions(xr, yr, xt, yt, gutL, gutB) {
  const axis = (range, list, name, size) => ({
    min: range[0], max: range[1], afterFit: fixSize(size), afterBuildTicks: ticksAt(list),
    grid: { drawOnChartArea: false, tickLength: 3, color: "#444" }, border: { display: false },
    ticks: { color: "#4d4d4d", font: { size: 12.5 }, padding: 2, autoSkip: false, maxRotation: 0 },
    title: { display: true, text: name, color: "#111", font: { size: 15 }, padding: 0 }
  });
  return {
    scales: { x: axis(xr, xt, "tSNE_1", gutB), y: axis(yr, yt, "tSNE_2", gutL) },
    plugins: { frame: { color: "#4d4d4d", width: 1.5 } }
  };
}
const dots = (pts, col, r) => ({ data: toPoints(pts), backgroundColor: col, borderWidth: 0, pointRadius: r });

const [bCanvas] = addChart({ l: 444, t: 2, r: 693, b: 256 }, { l: 41, r: 4, t: 2, b: 32 }, {
  type: "scatter",
  data: { datasets: [dots(bPzpTac1, "#e67bf2", 1.3), dots(bPzpSct, "#b88df7", 1.3), dots(bPzmTac1, "#1e88f5", 1.3), dots(bPzmSct, "#8fcdfb", 1.3), dots(bInsl5, "#ffbc33", 1.3), dots(bNts, "#ff1c1c", 1.3), dots(bDelta, "#7fdf00", 1.3)] },
  options: tsneOptions([-32.4, 36.1], [-40.7, 34], bTicksX, bTicksY, 41, 32)
});

const [dCanvas] = addChart({ l: 41, t: 545, r: 292, b: 799 }, { l: 41, r: 6, t: 2, b: 32 }, {
  type: "scatter",
  data: { datasets: [dots(dNtsSct, "#c90a0a", 2.6), dots(dNtsGcg, "#ff3d4a", 2.6), dots(dInsl5Sct, "#ff8412", 2.6), dots(dInsl5Gcg, "#ffbd2b", 2.6)] },
  options: tsneOptions([-20.5, 22.1], [-25.4, 23.3], dTicksX, dTicksY, 41, 32)
});

// Panels C and E: floating bars on a linear x scale, half a column of gap between cell types
function heatmap(box, genes, rows, sizes, gutR, labelPad) {
  const cols = [];
  let pos = 0;
  sizes.forEach((n, g) => { for (let i = 0; i < n; i++) cols.push({ g, i, x: pos + i }); pos += n + 0.5; });
  const lastX = pos - 1.5;
  const datasets = rows.map((row, r) => {
    const cells = cols.filter(c => row[c.g][c.i] !== undefined);
    return {
      data: cells.map(c => ({ x: c.x, y: [r, r + 1] })),
      backgroundColor: cells.map(c => heatRamp[row[c.g][c.i]]),
      grouped: false, barPercentage: 1, categoryPercentage: 1, borderWidth: 0
    };
  });
  return addChart(box, { l: 0, r: gutR, t: 2, b: 2, side: "right" }, {
    type: "bar",
    data: { datasets },
    options: { scales: {
      x: { type: "linear", display: false, offset: false, min: -0.5, max: lastX + 0.5 },
      y: { type: "linear", position: "right", reverse: true, min: 0, max: genes.length, afterFit: fixSize(gutR),
        afterBuildTicks: ticksAt(genes.map((g, i) => i + 0.5)),
        grid: { display: false, drawTicks: false }, border: { display: false },
        ticks: { autoSkip: false, padding: labelPad, color: "#222", font: { size: 11.5, style: "italic" }, callback: v => genes[Math.floor(v)] } }
    } }
  });
}
const [cCanvas] = heatmap({ l: 35, t: 318, r: 659, b: 472 }, cGenes, cRows, cGroupSizes, 60, 7);
const [eCanvas] = heatmap({ l: 313, t: 561, r: 619, b: 676 }, eGenes, eRows, eGroupSizes, 60, 10);
cCanvas.style.filter = "blur(0.4px)";
eCanvas.style.filter = "blur(0.4px)";

// Colour keys
function colorbar(box, lo, hi) {
  const whiteTicks = {
    id: "whiteTicks",
    afterDatasetsDraw(chart) {
      const { ctx, chartArea: a, scales } = chart;
      ctx.save();
      ctx.strokeStyle = "#fff";
      colorbarTicks.forEach(v => {
        const y = scales.y.getPixelForValue(v);
        ctx.beginPath();
        ctx.moveTo(a.left, y); ctx.lineTo(a.left + 4, y);
        ctx.moveTo(a.right - 4, y); ctx.lineTo(a.right, y);
        ctx.stroke();
      });
      ctx.restore();
    }
  };
  return addChart(box, { l: 0, r: 18, t: 2, b: 2, side: "right" }, {
    type: "bar",
    plugins: [whiteTicks],
    data: { labels: ["z"], datasets: [{
      data: [[lo, hi]], barPercentage: 1, categoryPercentage: 1, borderWidth: 0,
      backgroundColor: c => {
        const a = c.chart.chartArea;
        if (!a) return heatRamp[4];
        const g = c.chart.ctx.createLinearGradient(0, a.bottom, 0, a.top);
        heatRamp.forEach((col, i) => g.addColorStop(i / (heatRamp.length - 1), col));
        return g;
      }
    }] },
    options: { scales: {
      x: { display: false },
      y: { position: "right", min: lo, max: hi, afterFit: fixSize(18), afterBuildTicks: ticksAt(colorbarTicks),
        grid: { display: false, drawTicks: false }, border: { display: false },
        ticks: { autoSkip: false, padding: 1, color: "#333", font: { size: 12 } } }
    } }
  });
}
colorbar({ l: 710, t: 370, r: 729, b: 448 }, -2.6, 2.7);
colorbar({ l: 688, t: 584, r: 709, b: 680 }, -2.55, 2.7);

// Text: [main, superscript, x, baseline, size, sup size, rise]
const labels = [
  ["Ecm","Pz+/Tac1",451,24,15.5,10.8,7],["Ecm","Pz+/Sct",588,27,15.5,10.8,7],["Ecm","Pz-/Tac1",443,99,15.5,10.8,7],
  ["L","Nts",656,84,15.5,10.8,7],["Ecm","Pz-/Sct",447,203,15.5,10.8,7],["L","Insl5",565,183,15.5,10.8,7],["D","",617,229,16,10,0],
  ["L","Nts",92,311,15,9.8,7],["L","Insl5",189,311,15,9.8,7],["D","",298,311,15,9.8,0],["Ecm","Pz-/Sct",339,311,15,9.8,7],
  ["Ecm","Pz-/Tac1",410,311,15,9.8,7],["Ecm","Pz+/Sct",491,311,15,9.8,7],["Ecm","Pz+/Tac1",580,311,15,9.8,7],
  ["L","Insl5/Gcg",131,565,17,13,5],["L","Nts/Gcg",232,658,17,12.5,5],["L","Insl5/Sct",55,739,17,12.5,5],["L","Nts/Sct",120,791,15,12.5,5],
  ["L","Insl5/Gcg",367,553,14.5,9.6,6],["L","Insl5/Sct",449,553,14.5,9.6,6],["L","Nts/Gc",540,553,14.5,9.6,6],["L","Nts/Sct",595,553,14.5,9.6,6]
];
function addText(main, sup, x, base, size, supSize, rise, extra) {
  const el = document.createElement("div");
  el.className = "lb";
  el.style.left = x + "px";
  el.style.top = (base - 0.3465 * size) + "px";
  el.style.fontSize = size + "px";
  el.textContent = main;
  if (sup) {
    const s = document.createElement("sup");
    s.textContent = sup;
    s.style.fontSize = supSize + "px";
    s.style.top = (-rise) + "px";
    el.appendChild(s);
  }
  Object.assign(el.style, extra || {});
  document.body.appendChild(el);
}
labels.forEach(l => addText(...l));
[["A",27,20],["B",384,20],["C",27,295],["D",26,524],["E",315,524]].forEach(l => addText(l[0], "", l[1], l[2], 18, 0, 0, { fontWeight: "bold", color: "#000" }));
addText("NeuroD1", "+", 275, 53, 11.3, 8, 3, { color: "#5b9bd5" });
addText("*488 530/40 eYFP", "", 167, 210, 11.5, 0, 0, { color: "#222" });
addText("*355 460/50-DAPI", "", 77, 165, 11.5, 0, 0, { color: "#222", transform: "rotate(-90deg)", transformOrigin: "0 0" });
</script>
</body>
</html>
